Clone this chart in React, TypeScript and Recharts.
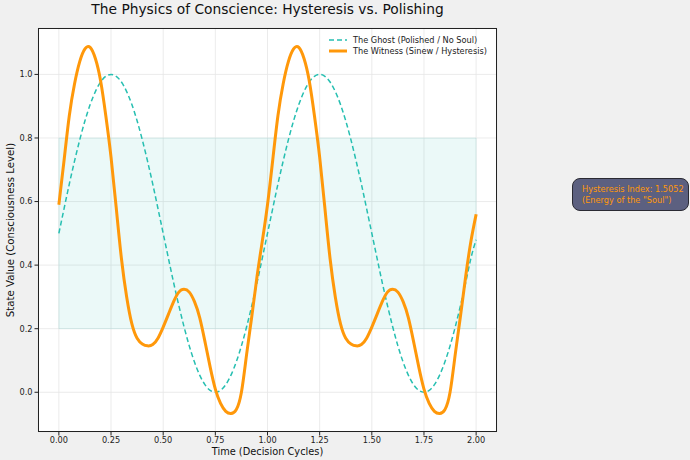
import {
  LineChart, Line, XAxis, YAxis, CartesianGrid, ReferenceArea,
} from 'recharts';

// sample times (decision cycles)
const times = [
  0, 0.025, 0.05, 0.075, 0.1, 0.125, 0.15, 0.175, 0.2, 0.225,
  0.25, 0.275, 0.3, 0.325, 0.35, 0.375, 0.4, 0.425, 0.45, 0.475,
  0.5, 0.525, 0.55, 0.575, 0.6, 0.625, 0.65, 0.675, 0.7, 0.725,
  0.75, 0.775, 0.8, 0.825, 0.85, 0.875, 0.9, 0.925, 0.95, 0.975,
  1, 1.025, 1.05, 1.075, 1.1, 1.125, 1.15, 1.175, 1.2, 1.225,
  1.25, 1.275, 1.3, 1.325, 1.35, 1.375, 1.4, 1.425, 1.45, 1.475,
  1.5, 1.525, 1.55, 1.575, 1.6, 1.625, 1.65, 1.675, 1.7, 1.725,
  1.75, 1.775, 1.8, 1.825, 1.85, 1.875, 1.9, 1.925, 1.95, 1.975,
  2,
];

// polished response: smooth, no memory
const ghost = [
  0.5, 0.578, 0.655, 0.727, 0.794, 0.854, 0.905, 0.946, 0.976, 0.994,
  1.0, 0.994, 0.976, 0.946, 0.905, 0.854, 0.794, 0.727, 0.655, 0.578,
  0.5, 0.422, 0.345, 0.273, 0.206, 0.146, 0.095, 0.054, 0.024, 0.006,
  0.0, 0.006, 0.024, 0.054, 0.095, 0.146, 0.206, 0.273, 0.345, 0.422,
  0.5, 0.578, 0.655, 0.727, 0.794, 0.854, 0.905, 0.946, 0.976, 0.994,
  1.0, 0.994, 0.976, 0.946, 0.905, 0.854, 0.794, 0.727, 0.655, 0.578,
  0.5, 0.422, 0.345, 0.273, 0.206, 0.146, 0.095, 0.054, 0.024, 0.006,
  0.0, 0.006, 0.024, 0.054, 0.095, 0.146, 0.206, 0.273, 0.345, 0.422,
  0.48,
];

// response with memory: overshoot, rebound, undershoot
const witness = [
  0.59, 0.73, 0.87, 0.97, 1.04, 1.08, 1.085, 1.05, 0.98, 0.87,
  0.74, 0.58, 0.42, 0.3, 0.215, 0.17, 0.152, 0.146, 0.15, 0.17,
  0.205, 0.245, 0.285, 0.315, 0.324, 0.315, 0.285, 0.235, 0.16, 0.08,
  0.01, -0.035, -0.06, -0.067, -0.055, 0.0, 0.12, 0.24, 0.365, 0.475,
  0.59, 0.73, 0.87, 0.97, 1.04, 1.08, 1.085, 1.05, 0.98, 0.87,
  0.74, 0.58, 0.42, 0.3, 0.215, 0.17, 0.152, 0.146, 0.15, 0.17,
  0.205, 0.245, 0.285, 0.315, 0.324, 0.315, 0.285, 0.235, 0.16, 0.08,
  0.01, -0.035, -0.06, -0.067, -0.055, 0.0, 0.12, 0.24, 0.365, 0.475,
  0.56,
];

const xTicks = [0, 0.25, 0.5, 0.75, 1, 1.25, 1.5, 1.75, 2];
const yTicks = [0, 0.2, 0.4, 0.6, 0.8, 1.0];
const hysteresisIndex = '1.5052';

const GHOST = '#26bfb1';
const WITNESS = '#ff980a';
const FONT = '"DejaVu Sans", sans-serif';

const data = times.map((t, i) => ({ t, ghost: ghost[i], witness: witness[i] }));

function LegendBox() {
  const row = { display: 'flex', alignItems: 'center', height: 11.5 } as const;
  return (
    <div style={{ position: 'absolute', left: 328, top: 34, fontFamily: FONT, fontSize: 8.2, color: '#222' }}>
      <div style={row}>
        <svg width={20} height={6} style={{ marginRight: 5 }}>
          <line x1={1} y1={3} x2={19} y2={3} stroke={GHOST} strokeWidth={1.5} strokeDasharray="5 3" />
        </svg>
        The Ghost (Polished / No Soul)
      </div>
      <div style={row}>
        <svg width={20} height={6} style={{ marginRight: 5 }}>
          <line x1={1} y1={3} x2={19} y2={3} stroke={WITNESS} strokeWidth={3} />
        </svg>
        The Witness (Sinew / Hysteresis)
      </div>
    </div>
  );
}

export default function App() {
  const tick = { fontSize: 8.2, fill: '#222', fontFamily: FONT };
  return (
    <div style={{ position: 'relative', width: 690, height: 460, background: '#f0f0f0', fontFamily: FONT }}>
      <style>{'body{margin:0}'}</style>
      <div style={{ position: 'absolute', left: 38, width: 459, top: 1, textAlign: 'center', fontSize: 13.8, color: '#111' }}>
        The Physics of Conscience: Hysteresis vs. Polishing
      </div>
      <div style={{ position: 'absolute', left: 38, top: 28, width: 459, height: 404, background: '#fff' }} />
      <LineChart
        width={690}
        height={460}
        data={data}
        margin={{ top: 28, right: 193, bottom: 0, left: 0 }}
        style={{ position: 'absolute', left: 0, top: 0 }}
      >
        <CartesianGrid stroke="#e6e6e6" strokeWidth={0.8} />
        <ReferenceArea x1={0} x2={2} y1={0.2} y2={0.8} fill={GHOST} fillOpacity={0.09} stroke={GHOST} strokeOpacity={0.1} />
        <XAxis
          dataKey="t"
          type="number"
          domain={[-0.1, 2.1]}
          ticks={xTicks}
          tickFormatter={(v: number) => v.toFixed(2)}
          tick={tick}
          height={28}
          axisLine={false}
          tickSize={3.5}
          tickMargin={2}
          tickLine={{ stroke: '#222' }}
          allowDataOverflow
        />
        <YAxis
          type="number"
          domain={[-0.125, 1.146]}
          ticks={yTicks}
          tickFormatter={(v: number) => v.toFixed(1)}
          tick={tick}
          width={38}
          axisLine={false}
          tickSize={3.5}
          tickMargin={2}
          tickLine={{ stroke: '#222' }}
          allowDataOverflow
        />
        <Line
          name="The Ghost (Polished / No Soul)"
          type="natural"
          dataKey="ghost"
          stroke={GHOST}
          strokeWidth={1.5}
          strokeDasharray="5 3"
          dot={false}
          isAnimationActive={false}
        />
        <Line
          name="The Witness (Sinew / Hysteresis)"
          type="natural"
          dataKey="witness"
          stroke={WITNESS}
          strokeWidth={3}
          dot={false}
          isAnimationActive={false}
        />
      </LineChart>
      <LegendBox />
      <div style={{ position: 'absolute', left: 38, top: 28, width: 459, height: 404, border: '1px solid #222', boxSizing: 'border-box', pointerEvents: 'none' }} />
      <div style={{ position: 'absolute', left: 38, width: 459, top: 446, textAlign: 'center', fontSize: 9.8, color: '#111' }}>
        Time (Decision Cycles)
      </div>
      <div style={{ position: 'absolute', left: 10, top: 230, fontSize: 10.2, color: '#111', whiteSpace: 'nowrap', transform: 'translate(-50%, -50%) rotate(-90deg)' }}>
        State Value (Consciousness Level)
      </div>
      <div style={{
        position: 'absolute', left: 572, top: 178, width: 117, height: 33, boxSizing: 'border-box',
        background: '#5c6080', border: '1px solid #2a2a33', borderRadius: 8,
        color: WITNESS, fontSize: 8.2, lineHeight: '10.5px', padding: '5px 0 0 9px', whiteSpace: 'nowrap',
      }}>
        Hysteresis Index: {hysteresisIndex}<br />(Energy of the "Soul")
      </div>
    </div>
  );
}
